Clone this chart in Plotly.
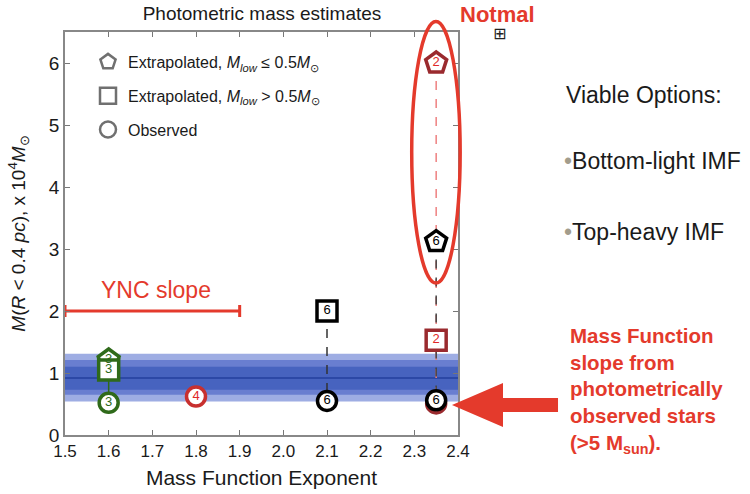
import plotly.graph_objects as go

# ---------------- data ----------------
x_ticks = [1.5, 1.6, 1.7, 1.8, 1.9, 2.0, 2.1, 2.2, 2.3, 2.4]
y_ticks = [0, 1, 2, 3, 4, 5, 6]

# observed-slope band (low, high) from outer to inner, and central value
band_levels = [(0.54, 1.31), (0.65, 1.21), (0.73, 1.10)]
band_center = 0.92

# series: (x, y, label)
green_x = [1.6, 1.6, 1.6]
green_y = [1.21, 1.05, 0.52]
green_sym = ["pentagon", "square", "circle"]
green_lbl = ["3", "3", "3"]

red18_x = [1.8]
red18_y = [0.62]
red18_lbl = ["4"]

black21_x = [2.1, 2.1]
black21_y = [2.0, 0.55]
black21_sym = ["square", "circle"]
black21_lbl = ["6", "6"]

red235_x = [2.35, 2.35, 2.35]
red235_y = [6.0, 1.53, 0.51]
red235_sym = ["pentagon", "square", "circle"]
red235_lbl = ["2", "2", "2"]

black235_x = [2.35, 2.35]
black235_y = [3.12, 0.56]
black235_sym = ["pentagon", "circle"]
black235_lbl = ["6", "6"]

ync_center = 1.7
ync_halfwidth = 0.2
ync_y = 2.0

ellipse_x = (2.294, 2.405)
ellipse_y = (2.45, 6.67)

legend_labels = [
    "Extrapolated, <i>M</i><sub><i>low</i></sub> \u2264 0.5<i>M</i><sub>\u2299</sub>",
    "Extrapolated, <i>M</i><sub><i>low</i></sub> > 0.5<i>M</i><sub>\u2299</sub>",
    "Observed",
]
legend_syms = ["pentagon-open", "square-open", "circle-open"]

X_RANGE = [1.5, 2.4]
Y_RANGE = [0, 6.5]

# ---------------- layout geometry ----------------
W, H = 750, 494
ML, MR, MT, MB = 65, 292, 32, 59
PW = W - ML - MR
PH = H - MT - MB


def px2x(px):
    return (px - ML) / PW


def py2y(py):
    return (H - MB - py) / PH


def dx2paper(v):
    return (v - X_RANGE[0]) / (X_RANGE[1] - X_RANGE[0])


def dy2paper(v):
    return (v - Y_RANGE[0]) / (Y_RANGE[1] - Y_RANGE[0])


FONT = "Liberation Sans, Arial, Helvetica, sans-serif"
RED = "#e43a2c"
GREEN = "#2f6a1a"
DARKRED = "#9a2a2e"

fig = go.Figure()

# dashed connectors
fig.add_trace(go.Scatter(x=[green_x[0], green_x[2]], y=[green_y[0], green_y[2]], mode="lines",
                         line=dict(color=GREEN, width=1.5), showlegend=False, hoverinfo="skip"))
fig.add_trace(go.Scatter(x=black21_x, y=black21_y, mode="lines",
                         line=dict(color="#333", width=1.5, dash="dash"), showlegend=False, hoverinfo="skip"))
fig.add_trace(go.Scatter(x=[red235_x[0], red235_x[2]], y=[red235_y[0], red235_y[2]], mode="lines",
                         line=dict(color="#ee8080", width=1.5, dash="dash"), showlegend=False, hoverinfo="skip"))
fig.add_trace(go.Scatter(x=black235_x, y=black235_y, mode="lines",
                         line=dict(color="#444", width=1.5, dash="dash"), showlegend=False, hoverinfo="skip"))

# YNC slope error bar
fig.add_trace(go.Scatter(x=[ync_center], y=[ync_y], mode="markers",
                         marker=dict(size=1, color=RED, opacity=0),
                         error_x=dict(type="data", array=[ync_halfwidth], color=RED, thickness=3, width=6),
                         showlegend=False, hoverinfo="skip", cliponaxis=False))


def marker_trace(xs, ys, syms, lbls, line_col, text_col, sizes=None):
    if sizes is None:
        sizes = [22 if s == "pentagon" else (20 if s == "square" else 19) for s in syms]
    return go.Scatter(x=xs, y=ys, mode="markers+text", text=lbls, textposition="middle center",
                      textfont=dict(family=FONT, size=13, color=text_col),
                      marker=dict(symbol=syms, size=sizes, color="white", opacity=1,
                                  line=dict(color=line_col, width=3.5)),
                      showlegend=False, cliponaxis=False, hoverinfo="skip")


fig.add_trace(marker_trace(green_x, green_y, green_sym, green_lbl, GREEN, GREEN))
fig.add_trace(marker_trace(red18_x, red18_y, ["circle"], red18_lbl, "#c8302f", "#e02828"))
fig.add_trace(marker_trace(black21_x, black21_y, black21_sym, black21_lbl, "#000", "#000"))
fig.add_trace(marker_trace(red235_x, red235_y, red235_sym, red235_lbl, DARKRED, "#e02828"))
fig.add_trace(marker_trace(black235_x, black235_y, black235_sym, black235_lbl, "#000", "#000"))

# legend entries
for i, (lab, sym) in enumerate(zip(legend_labels, legend_syms)):
    fig.add_trace(go.Scatter(x=[None], y=[None], mode="markers", name=lab, legendgroup=str(i),
                             marker=dict(symbol=sym, size=16, color="#707070", line=dict(width=2.5, color="#707070"))))

# band shapes
shapes = []
band_cols = ["rgba(125,145,218,0.75)", "rgba(95,118,205,0.85)", "rgba(70,98,190,0.95)"]
for (lo, hi), col in zip(band_levels, band_cols):
    shapes.append(dict(type="rect", xref="x", yref="y", x0=X_RANGE[0], x1=X_RANGE[1], y0=lo, y1=hi,
                       fillcolor=col, line=dict(width=0), layer="below"))
shapes.append(dict(type="line", xref="x", yref="y", x0=X_RANGE[0], x1=X_RANGE[1], y0=band_center, y1=band_center,
                   line=dict(color="#2c48a6", width=2), layer="below"))

# red ellipse (paper refs so it is not clipped)
shapes.append(dict(type="circle", xref="paper", yref="paper",
                   x0=dx2paper(ellipse_x[0]), x1=dx2paper(ellipse_x[1]),
                   y0=dy2paper(ellipse_y[0]), y1=dy2paper(ellipse_y[1]),
                   line=dict(color=RED, width=3.5)))

# big red arrow
pts = [(452, 405), (503, 383), (503, 398), (558, 398), (558, 412), (503, 412), (503, 427)]
path = "M " + " L ".join(f"{px2x(a):.4f},{py2y(b):.4f}" for a, b in pts) + " Z"
shapes.append(dict(type="path", xref="paper", yref="paper", path=path,
                   fillcolor=RED, line=dict(width=0)))

annotations = [
    dict(x=dx2paper(1.708), y=dy2paper(2.34), xref="paper", yref="paper", text="YNC slope",
         xanchor="center", yanchor="middle", showarrow=False, font=dict(family=FONT, size=23, color=RED)),
    dict(x=px2x(497), y=py2y(15), xref="paper", yref="paper", text="<b>Notmal</b>",
         xanchor="center", yanchor="middle", showarrow=False, font=dict(family=FONT, size=22, color=RED)),
    dict(x=px2x(499), y=py2y(33), xref="paper", yref="paper", text="\u229e",
         xanchor="center", yanchor="middle", showarrow=False, font=dict(family="DejaVu Sans", size=16, color="#222")),
    dict(x=px2x(564), y=py2y(95), xref="paper", yref="paper", text="Viable Options:",
         xanchor="left", yanchor="middle", showarrow=False, font=dict(family=FONT, size=23, color="#1a1a1a")),
    dict(x=px2x(562), y=py2y(161), xref="paper", yref="paper",
         text="<span style='color:#a39d8c'>\u2022</span>Bottom-light IMF",
         xanchor="left", yanchor="middle", showarrow=False, font=dict(family=FONT, size=23, color="#1a1a1a")),
    dict(x=px2x(562), y=py2y(232), xref="paper", yref="paper",
         text="<span style='color:#a39d8c'>\u2022</span>Top-heavy IMF",
         xanchor="left", yanchor="middle", showarrow=False, font=dict(family=FONT, size=23, color="#1a1a1a")),
    dict(x=px2x(568), y=py2y(390), xref="paper", yref="paper",
         text="<b>Mass Function<br>slope from<br>photometrically<br>observed stars<br>(>5 M<sub>sun</sub>).</b>",
         xanchor="left", yanchor="middle", align="left", showarrow=False,
         font=dict(family=FONT, size=20.5, color=RED)),
]

fig.update_layout(
    width=W, height=H,
    margin=dict(l=ML, r=MR, t=MT, b=MB, autoexpand=False),
    paper_bgcolor="white", plot_bgcolor="white",
    font=dict(family=FONT, color="#1a1a1a"),
    title=dict(text="Photometric mass estimates", x=(ML + px2x(262) * PW) / W, xanchor="center",
               y=1 - 13 / H, yanchor="middle", font=dict(family=FONT, size=19, color="#1a1a1a")),
    xaxis=dict(range=X_RANGE, tickvals=x_ticks, ticktext=[f"{v:.1f}" for v in x_ticks],
               ticks="inside", ticklen=5, tickcolor="#777", showline=True, linecolor="#888", linewidth=1.5,
               mirror="ticks", showgrid=False, zeroline=False, automargin=False,
               tickfont=dict(size=17), title=dict(text="Mass Function Exponent", font=dict(size=21), standoff=10)),
    yaxis=dict(range=Y_RANGE, tickvals=y_ticks, ticks="inside", ticklen=5, tickcolor="#777",
               showline=True, linecolor="#888", linewidth=1.5, mirror="ticks", showgrid=False, zeroline=False,
               automargin=False, tickfont=dict(size=19),
               title=dict(text="<i>M</i>(<i>R</i> &lt; 0.4 <i>pc</i>), x 10<sup>4</sup><i>M</i><sub>\u2299</sub>",
                          font=dict(size=19), standoff=18)),
    legend=dict(x=px2x(88), y=py2y(45), xanchor="left", yanchor="top", bgcolor="rgba(0,0,0,0)",
                font=dict(family=FONT, size=16, color="#1a1a1a"), tracegroupgap=10, itemsizing="trace"),
    shapes=shapes,
    annotations=annotations,
)

fig.write_html("out.html")
